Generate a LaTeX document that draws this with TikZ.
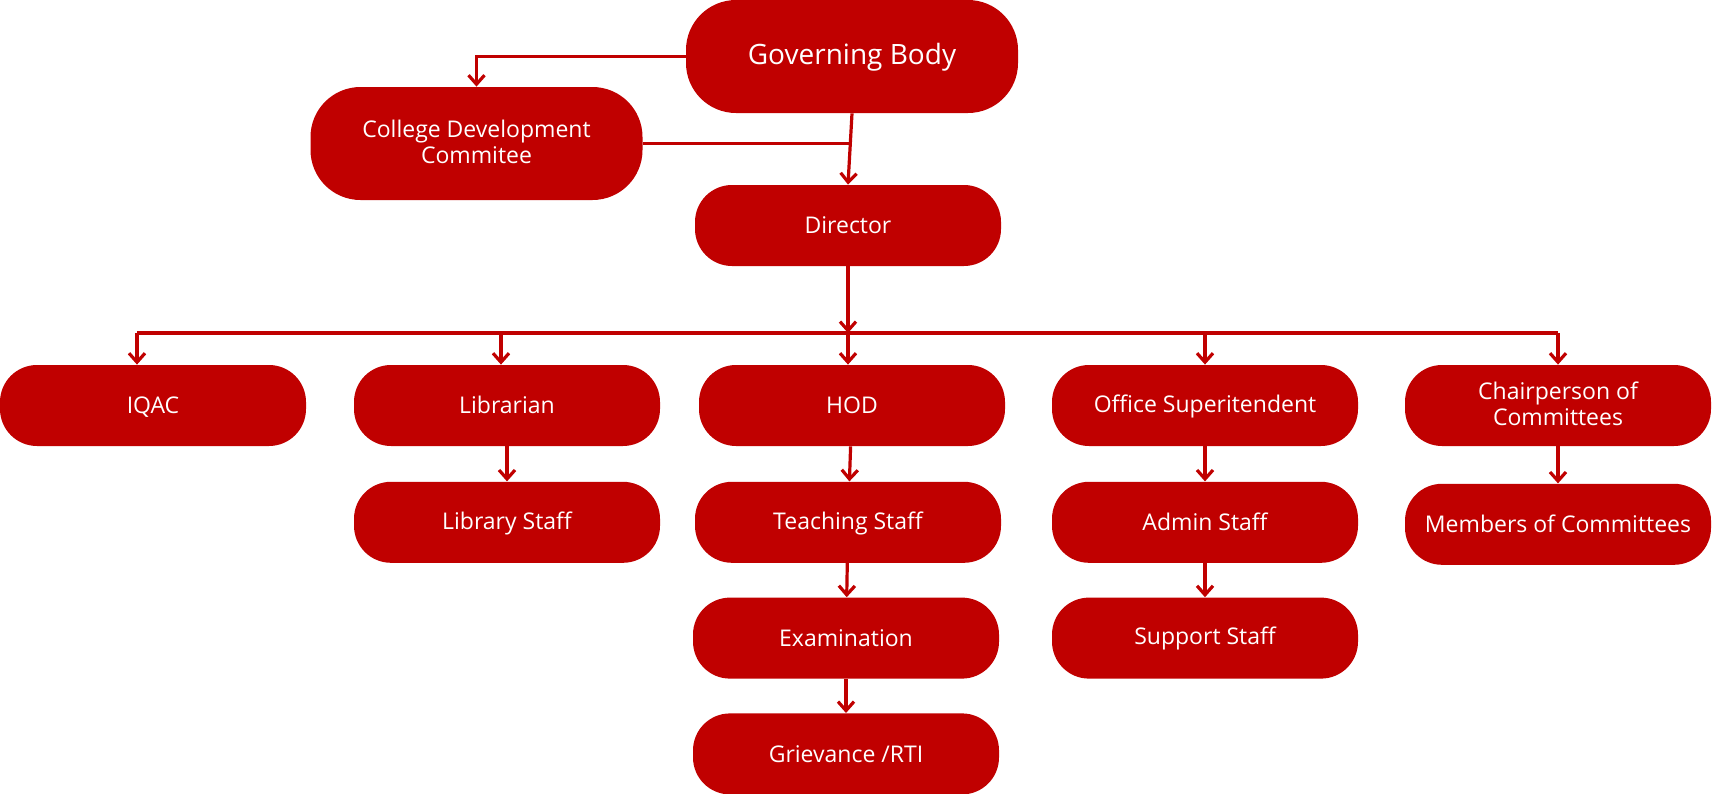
\documentclass[tikz,border=0pt]{standalone}
\usepackage{fontspec}
\setmainfont{Open Sans}
\usetikzlibrary{positioning,arrows.meta}
\definecolor{cdred}{HTML}{C00000}

\tikzset{
  box/.style={fill=cdred, text=white, rounded corners=18.5pt, inner sep=0pt,
    minimum width=153pt, minimum height=40.5pt, align=center,
    font=\fontsize{11.5}{13}\selectfont,
    execute at begin node={\rule{0pt}{0.83em}},
    execute at end node={\rule[-0.12em]{0pt}{0pt}}},
  bigbox/.style={box, rounded corners=25pt, minimum width=166pt, minimum height=56.5pt},
  link/.style={draw=cdred, line width=1.6pt}
}

\begin{document}
\begin{tikzpicture}[x=0.5pt,y=-0.5pt,>={Straight Barb[length=4.5pt,width=8pt]}]
		\useasboundingbox (0,0) rectangle (1713,793);

		%top of the chart
		\node[bigbox, font=\fontsize{14}{16}\selectfont] (gb) at (852,56.5) {Governing Body};
		\node[bigbox] (cdc) at (476.5,143.5) {College Development\\Commitee};
		\node[box] (dir) at (848,225.5) {Director};

		\draw[link,->] (gb.west) -| (cdc.north);
		\draw[link,->] (gb.south) -- (dir.north);
		\draw[link] (cdc.east) -- ([xshift=-1pt]cdc.east -| gb.south);

		%the first row
		\node[box] (iqac) at (153,405.5) {IQAC};
		\node[box] (lib) at (507,405.5) {Librarian};
		\node[box] (hod) at (852,405.5) {HOD};
		\node[box] (office) at (1205,405.5) {Office Superitendent};
		\node[box] (chair) at (1558,405.5) {Chairperson of\\Committees};

		% the bus under the director
		\coordinate (bus) at (0,333);
		\draw[link,->] (dir.south) -- (dir.south |- bus);
		\draw[link] ([xshift=-8pt]iqac.north |- bus) -- (chair.north |- bus);
		\draw[link,->] ([xshift=-8pt]iqac.north |- bus) -- ([xshift=-8pt]iqac.north);
		\draw[link,->] ([xshift=-3pt]lib.north |- bus) -- ([xshift=-3pt]lib.north);
		\draw[link,->] ([xshift=-2pt]hod.north |- bus) -- ([xshift=-2pt]hod.north);
		\foreach \n in {office,chair}
			\draw[link,->] (\n.north |- bus) -- (\n.north);

		%the chains below
		\node[box, below=17.5pt of lib] (libstaff) {Library Staff};
		\node[box, below=17.5pt of hod, xshift=-2pt] (teach) {Teaching Staff};
		\node[box, below=17pt of teach, xshift=-1pt] (exam) {Examination};
		\node[box, below=17pt of exam] (griev) {Grievance /RTI};
		\node[box, below=17.5pt of office] (admin) {Admin Staff};
		\node[box, below=17pt of admin] (support) {Support Staff};
		\node[box, below=18.5pt of chair] (members) {Members of Committees};

		\draw[link,->] (lib) -- (libstaff);
		\draw[link,->] (hod) -- (teach);
		\draw[link,->] (teach) -- (exam);
		\draw[link,->] (exam) -- (griev);
		\draw[link,->] (office) -- (admin);
		\draw[link,->] (admin) -- (support);
		\draw[link,->] (chair) -- (members);

	\end{tikzpicture}
\end{document}
